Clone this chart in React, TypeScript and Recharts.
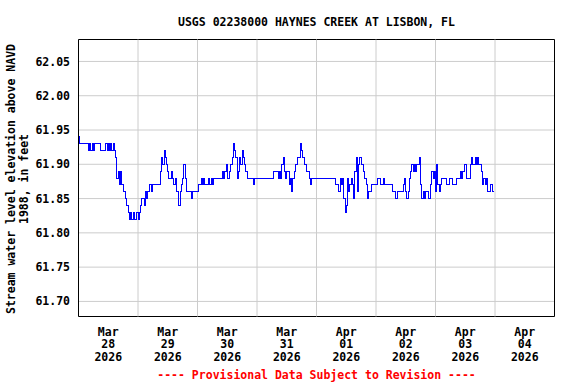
import React from 'react';
import {
    LineChart,
    Line,
    XAxis,
    YAxis,
    CartesianGrid,
    ReferenceLine,
    ReferenceArea,
} from 'recharts';

// half-hourly gage height readings, ft (NAVD 1988), one array per day
const mar28 = [
    61.94, 61.93, 61.93, 61.93, 61.93, 61.93, 61.93, 61.93, 61.92, 61.93, 61.92, 61.93,
    61.92, 61.93, 61.93, 61.93, 61.93, 61.93, 61.92, 61.92, 61.92, 61.92, 61.93, 61.92,
    61.93, 61.92, 61.93, 61.92, 61.93, 61.92, 61.91, 61.88, 61.89, 61.87, 61.89, 61.87,
    61.86, 61.86, 61.85, 61.84, 61.83, 61.82, 61.83, 61.82, 61.83, 61.82, 61.82, 61.83,
];
const mar29 = [
    61.82, 61.83, 61.84, 61.85, 61.85, 61.84, 61.86, 61.85, 61.86, 61.87, 61.87, 61.86,
    61.87, 61.87, 61.87, 61.87, 61.87, 61.87, 61.89, 61.91, 61.90, 61.92, 61.91, 61.90,
    61.89, 61.88, 61.88, 61.89, 61.88, 61.87, 61.88, 61.86, 61.86, 61.84, 61.86, 61.87,
    61.88, 61.90, 61.88, 61.86, 61.86, 61.86, 61.86, 61.85, 61.86, 61.86, 61.86, 61.86,
];
const mar30 = [
    61.86, 61.87, 61.87, 61.88, 61.87, 61.88, 61.87, 61.87, 61.87, 61.88, 61.87, 61.88,
    61.87, 61.88, 61.88, 61.88, 61.88, 61.88, 61.88, 61.88, 61.89, 61.88, 61.89, 61.90,
    61.88, 61.88, 61.89, 61.90, 61.91, 61.93, 61.92, 61.91, 61.88, 61.89, 61.91, 61.90,
    61.92, 61.91, 61.90, 61.89, 61.88, 61.88, 61.88, 61.88, 61.88, 61.87, 61.88, 61.88,
];
const mar31 = [
    61.88, 61.88, 61.88, 61.88, 61.88, 61.88, 61.88, 61.88, 61.88, 61.88, 61.88, 61.88,
    61.88, 61.89, 61.89, 61.89, 61.89, 61.88, 61.89, 61.88, 61.90, 61.91, 61.89, 61.88,
    61.89, 61.89, 61.87, 61.88, 61.86, 61.88, 61.89, 61.90, 61.90, 61.91, 61.91, 61.93,
    61.92, 61.91, 61.90, 61.90, 61.89, 61.89, 61.88, 61.87, 61.88, 61.88, 61.88, 61.88,
];
const apr01 = [
    61.88, 61.88, 61.88, 61.88, 61.88, 61.88, 61.88, 61.88, 61.88, 61.88, 61.88, 61.88,
    61.88, 61.88, 61.88, 61.87, 61.87, 61.87, 61.86, 61.88, 61.87, 61.88, 61.85, 61.83,
    61.84, 61.88, 61.86, 61.87, 61.88, 61.87, 61.85, 61.89, 61.91, 61.86, 61.90, 61.91,
    61.90, 61.90, 61.89, 61.88, 61.87, 61.85, 61.86, 61.86, 61.87, 61.87, 61.87, 61.87,
];
const apr02 = [
    61.87, 61.88, 61.88, 61.88, 61.87, 61.87, 61.88, 61.87, 61.87, 61.87, 61.87, 61.87,
    61.87, 61.86, 61.86, 61.86, 61.85, 61.86, 61.86, 61.86, 61.86, 61.86, 61.87, 61.88,
    61.86, 61.85, 61.86, 61.88, 61.89, 61.90, 61.89, 61.90, 61.89, 61.90, 61.90, 61.91,
    61.87, 61.85, 61.86, 61.85, 61.86, 61.86, 61.85, 61.85, 61.87, 61.89, 61.88, 61.89,
];
const apr03 = [
    61.86, 61.90, 61.87, 61.86, 61.87, 61.88, 61.88, 61.88, 61.88, 61.87, 61.87, 61.88,
    61.88, 61.88, 61.87, 61.87, 61.87, 61.88, 61.88, 61.88, 61.89, 61.88, 61.89, 61.90,
    61.90, 61.88, 61.88, 61.88, 61.90, 61.91, 61.90, 61.90, 61.91, 61.90, 61.91, 61.90,
    61.90, 61.89, 61.87, 61.88, 61.87, 61.88, 61.86, 61.86, 61.87, 61.87, 61.86, 61.86,
];

const days = [mar28, mar29, mar30, mar31, apr01, apr02, apr03];

// x axis in hours since Mar 28 00:00
const tickMonths = ['Mar', 'Mar', 'Mar', 'Mar', 'Apr', 'Apr', 'Apr', 'Apr'];
const tickDays = ['28', '29', '30', '31', '01', '02', '03', '04'];
const tickYear = '2026';
const noonHours = [12, 36, 60, 84, 108, 132, 156, 180];
const midnightHours = [24, 48, 72, 96, 120, 144, 168];
const yTicks = [61.7, 61.75, 61.8, 61.85, 61.9, 61.95, 62.0, 62.05];

const X_DOMAIN: [number, number] = [0, 192];
const Y_DOMAIN: [number, number] = [61.678, 62.082];

const data = days.flatMap((vals, d) => vals.map((v, i) => ({ t: d * 24 + i * 0.5, v })));

const FONT = '"DejaVu Sans Mono", monospace';
const textStyle: React.CSSProperties = {
    fontFamily: FONT,
    fontWeight: 'bold',
    fontSize: 11.5,
};

const DateTick = ({ x, y, payload }: any) => {
    const idx = noonHours.indexOf(payload.value);
    return (
        <text x={x} y={y} textAnchor="middle" fill="#000" style={textStyle}>
            <tspan x={x} dy={19}>{tickMonths[idx]}</tspan>
            <tspan x={x} dy={12.7}>{tickDays[idx]}</tspan>
            <tspan x={x} dy={12.7}>{tickYear}</tspan>
        </text>
    );
};

export default function App() {
    return (
        <div style={{ position: 'absolute', left: 0, top: 0, width: 576, height: 384, background: '#fff' }}>
            <div
                style={{
                    ...textStyle,
                    position: 'absolute',
                    left: 78.5,
                    width: 476,
                    top: 16,
                    lineHeight: '12px',
                    textAlign: 'center',
                }}
            >
                USGS 02238000 HAYNES CREEK AT LISBON, FL
            </div>
            <div
                style={{
                    ...textStyle,
                    position: 'absolute',
                    left: -132.5,
                    top: 166,
                    width: 300,
                    height: 26,
                    lineHeight: '13px',
                    textAlign: 'center',
                    transform: 'rotate(-90deg)',
                    whiteSpace: 'nowrap',
                }}
            >
                Stream water level elevation above NAVD
                <br />
                1988, in feet
            </div>
            <LineChart
                width={576}
                height={384}
                data={data}
                margin={{ top: 39.5, right: 21.5, bottom: 17.5, left: 18.5 }}
            >
                <CartesianGrid vertical={false} stroke="#cccccc" />
                {midnightHours.map((h) => (
                    <ReferenceLine key={h} x={h} stroke="#cccccc" />
                ))}
                <XAxis
                    dataKey="t"
                    type="number"
                    domain={X_DOMAIN}
                    ticks={noonHours}
                    tick={<DateTick />}
                    tickLine={false}
                    axisLine={false}
                    tickSize={0}
                    tickMargin={0}
                    height={50}
                    allowDataOverflow
                    interval={0}
                />
                <YAxis
                    type="number"
                    domain={Y_DOMAIN}
                    ticks={yTicks}
                    tickFormatter={(v: number) => v.toFixed(2)}
                    tick={{ fill: '#000', ...textStyle }}
                    tickLine={false}
                    axisLine={false}
                    tickSize={0}
                    tickMargin={8.5}
                    width={60}
                    allowDataOverflow
                    interval={0}
                />
                <ReferenceArea
                    x1={X_DOMAIN[0]}
                    x2={X_DOMAIN[1]}
                    y1={Y_DOMAIN[0]}
                    y2={Y_DOMAIN[1]}
                    fill="none"
                    fillOpacity={0}
                    stroke="#000"
                    strokeWidth={1}
                />
                <Line
                    type="stepAfter"
                    dataKey="v"
                    stroke="#0000ff"
                    strokeWidth={1}
                    shapeRendering="crispEdges"
                    dot={false}
                    isAnimationActive={false}
                />
            </LineChart>
            <div
                style={{
                    ...textStyle,
                    position: 'absolute',
                    left: 78.5,
                    width: 476,
                    top: 369,
                    lineHeight: '12px',
                    textAlign: 'center',
                    color: '#ff0000',
                }}
            >
                ---- Provisional Data Subject to Revision ----
            </div>
        </div>
    );
}
